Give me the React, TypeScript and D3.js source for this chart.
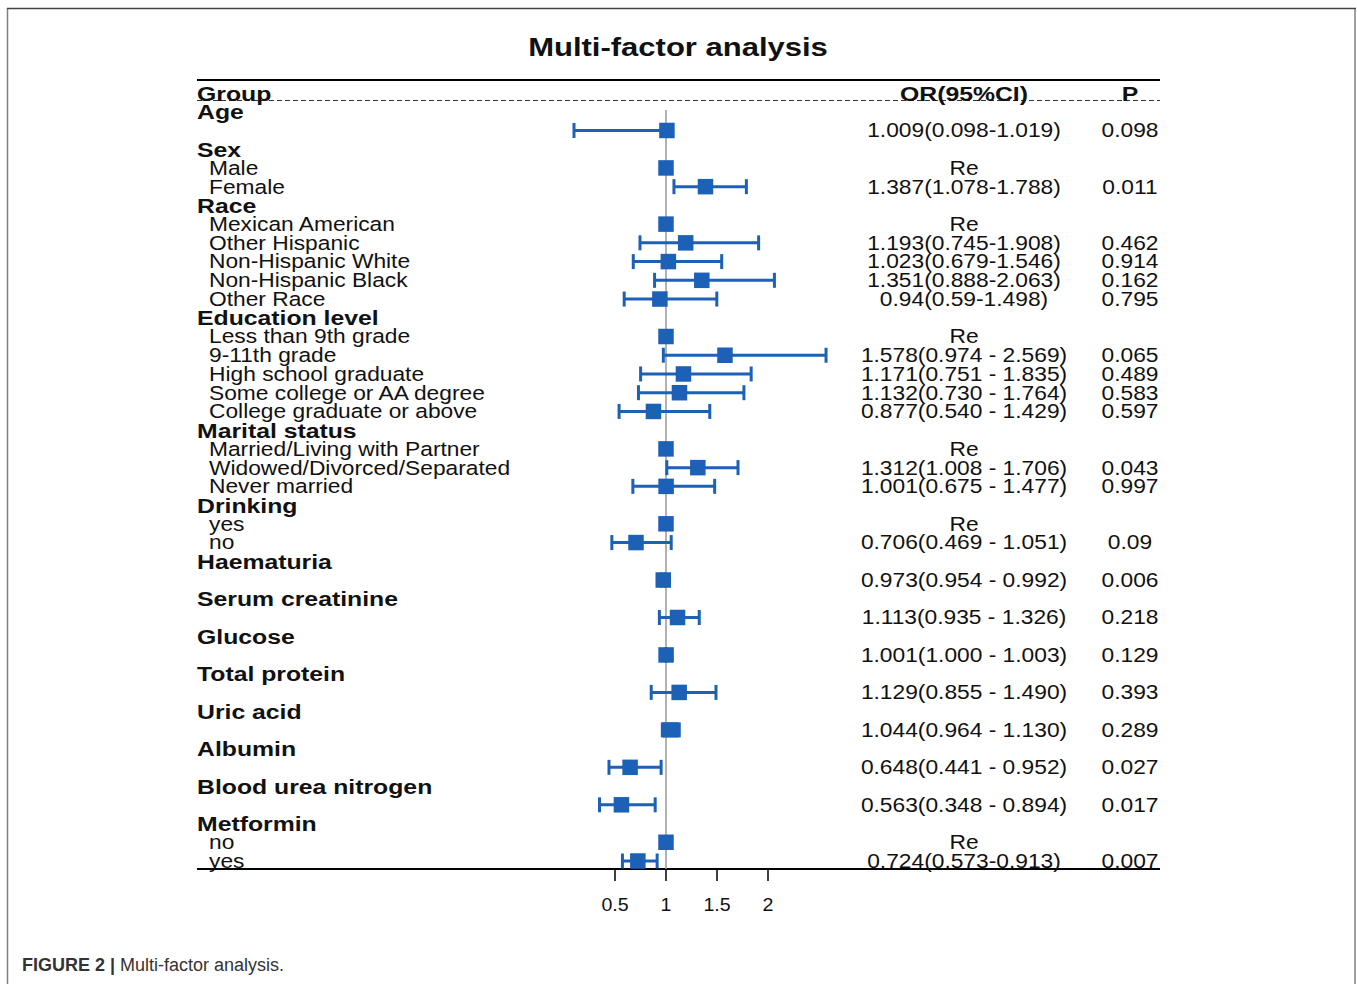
import * as d3 from 'd3';

const W = 1357;
const H = 984;

// one entry per table row (the header row "Group" is row 0 and is not listed)
const labels = [
  'Age', '', 'Sex', 'Male', 'Female', 'Race', 'Mexican American', 'Other Hispanic',
  'Non-Hispanic White', 'Non-Hispanic Black', 'Other Race', 'Education level',
  'Less than 9th grade', '9-11th grade', 'High school graduate', 'Some college or AA degree',
  'College graduate or above', 'Marital status', 'Married/Living with Partner',
  'Widowed/Divorced/Separated', 'Never married', 'Drinking', 'yes', 'no', 'Haematuria', '',
  'Serum creatinine', '', 'Glucose', '', 'Total protein', '', 'Uric acid', '', 'Albumin', '',
  'Blood urea nitrogen', '', 'Metformin', 'no', 'yes',
];
const groupHeads = [
  'Age', 'Sex', 'Race', 'Education level', 'Marital status', 'Drinking', 'Haematuria',
  'Serum creatinine', 'Glucose', 'Total protein', 'Uric acid', 'Albumin',
  'Blood urea nitrogen', 'Metformin',
];
const est = [
  null, 1.009, null, 1, 1.387, null, 1, 1.193, 1.023, 1.351, 0.94, null, 1, 1.578, 1.171,
  1.132, 0.877, null, 1, 1.312, 1.001, null, 1, 0.706, null, 0.973, null, 1.113, null, 1.001,
  null, 1.129, null, 1.044, null, 0.648, null, 0.563, null, 1, 0.724,
];
const lower = [
  null, 0.098, null, null, 1.078, null, null, 0.745, 0.679, 0.888, 0.59, null, null, 0.974,
  0.751, 0.73, 0.54, null, null, 1.008, 0.675, null, null, 0.469, null, 0.954, null, 0.935,
  null, 1.0, null, 0.855, null, 0.964, null, 0.441, null, 0.348, null, null, 0.573,
];
const upper = [
  null, 1.019, null, null, 1.788, null, null, 1.908, 1.546, 2.063, 1.498, null, null, 2.569,
  1.835, 1.764, 1.429, null, null, 1.706, 1.477, null, null, 1.051, null, 0.992, null, 1.326,
  null, 1.003, null, 1.49, null, 1.13, null, 0.952, null, 0.894, null, null, 0.913,
];
const orText = [
  '', '1.009(0.098-1.019)', '', 'Re', '1.387(1.078-1.788)', '', 'Re', '1.193(0.745-1.908)',
  '1.023(0.679-1.546)', '1.351(0.888-2.063)', '0.94(0.59-1.498)', '', 'Re',
  '1.578(0.974 - 2.569)', '1.171(0.751 - 1.835)', '1.132(0.730 - 1.764)',
  '0.877(0.540 - 1.429)', '', 'Re', '1.312(1.008 - 1.706)', '1.001(0.675 - 1.477)', '', 'Re',
  '0.706(0.469 - 1.051)', '', '0.973(0.954 - 0.992)', '', '1.113(0.935 - 1.326)', '',
  '1.001(1.000 - 1.003)', '', '1.129(0.855 - 1.490)', '', '1.044(0.964 - 1.130)', '',
  '0.648(0.441 - 0.952)', '', '0.563(0.348 - 0.894)', '', 'Re', '0.724(0.573-0.913)',
];
const pText = [
  '', '0.098', '', '', '0.011', '', '', '0.462', '0.914', '0.162', '0.795', '', '', '0.065',
  '0.489', '0.583', '0.597', '', '', '0.043', '0.997', '', '', '0.09', '', '0.006', '', '0.218',
  '', '0.129', '', '0.393', '', '0.289', '', '0.027', '', '0.017', '', '', '0.007',
];
const axisTicks = [0.5, 1, 1.5, 2];

const blue = '#1c61b6';
const font = '"Liberation Sans", Arial, sans-serif';
const sx = 1.18; // the source text is stretched sideways
const left = 197;
const right = 1160;
const orCol = 964;
const pCol = 1130;
const boxSize = 15.5;
const capH = 15;

// stretched text helper
function T({ x, y, size, bold, anchor = 'start', stretch = sx, fill = '#111', children }: any) {
  return (
    <text
      transform={`translate(${x},${y + size * 0.358}) scale(${stretch},1)`}
      fontSize={size}
      fontWeight={bold ? 700 : 400}
      textAnchor={anchor}
      fontFamily={font}
      fill={fill}
    >
      {children}
    </text>
  );
}

export default function App() {
  const x = d3.scaleLinear([0.5, 2], [615, 768]);
  const y = d3.scaleLinear([0, labels.length], [93, 861]);
  const yBottom = y(labels.length) + 8;

  return (
    <svg
      width={W}
      height={H}
      style={{ position: 'absolute', left: 0, top: 0, background: '#fff' }}
    >
      {/* figure frame */}
      <line x1={7.5} x2={7.5} y1={8} y2={H} stroke="#808080" strokeWidth={1.5} />
      <line x1={1355} x2={1355} y1={8} y2={H} stroke="#808080" strokeWidth={1.5} />
      <line x1={7} x2={1356} y1={8.5} y2={8.5} stroke="#444" strokeWidth={1.5} />

      <T x={678} y={47} size={26.5} bold anchor="middle" stretch={1.17}>
        Multi-factor analysis
      </T>

      {/* table rules */}
      <line x1={left} x2={right} y1={80} y2={80} stroke="#000" strokeWidth={2} />
      <line
        x1={left}
        x2={right}
        y1={100.5}
        y2={100.5}
        stroke="#333"
        strokeWidth={1}
        strokeDasharray="5,3"
      />
      <line x1={left} x2={right} y1={yBottom} y2={yBottom} stroke="#000" strokeWidth={2} />

      {/* header */}
      <T x={left} y={y(0)} size={21} bold>Group</T>
      <T x={orCol} y={y(0)} size={21} bold anchor="middle">OR(95%CI)</T>
      <T x={pCol} y={y(0)} size={21} bold anchor="middle">P</T>

      {/* reference line */}
      <line x1={x(1)} x2={x(1)} y1={110} y2={yBottom} stroke="#999" strokeWidth={1.5} />

      {labels.map((lab, i) => {
        const yy = y(i + 1);
        const head = groupHeads.includes(lab) && !(lab === 'no' || lab === 'yes');
        return (
          <g key={i}>
            {lab && (
              <T x={head ? left : left + 12} y={yy} size={head ? 21 : 19.3} bold={head}>
                {lab}
              </T>
            )}
            {orText[i] && (
              <T x={orCol} y={yy} size={19.3} anchor="middle">{orText[i]}</T>
            )}
            {pText[i] && (
              <T x={pCol} y={yy} size={19.3} anchor="middle">{pText[i]}</T>
            )}
          </g>
        );
      })}

      {/* confidence intervals and boxes */}
      {est.map((e, i) => {
        if (e == null) return null;
        const yy = y(i + 1);
        const lo = lower[i];
        const hi = upper[i];
        return (
          <g key={'ci' + i}>
            {lo != null && hi != null && (
              <g stroke={blue} strokeWidth={3}>
                <line x1={x(lo)} x2={x(hi)} y1={yy} y2={yy} />
                <line x1={x(lo)} x2={x(lo)} y1={yy - capH / 2} y2={yy + capH / 2} />
                <line x1={x(hi)} x2={x(hi)} y1={yy - capH / 2} y2={yy + capH / 2} />
              </g>
            )}
            <rect
              x={x(e) - boxSize / 2}
              y={yy - boxSize / 2}
              width={boxSize}
              height={boxSize}
              fill={blue}
            />
          </g>
        );
      })}

      {/* x axis ticks */}
      {axisTicks.map((t) => (
        <g key={t}>
          <line x1={x(t)} x2={x(t)} y1={yBottom} y2={yBottom + 12} stroke="#000" strokeWidth={1.5} />
          <T x={x(t)} y={905} size={17.5} anchor="middle" stretch={1.12}>
            {t}
          </T>
        </g>
      ))}

      {/* caption */}
      <text x={22} y={971} fontSize={18} fontFamily={font} fill="#333">
        <tspan fontWeight={700}>FIGURE 2 | </tspan>
        <tspan>Multi-factor analysis.</tspan>
      </text>
    </svg>
  );
}
